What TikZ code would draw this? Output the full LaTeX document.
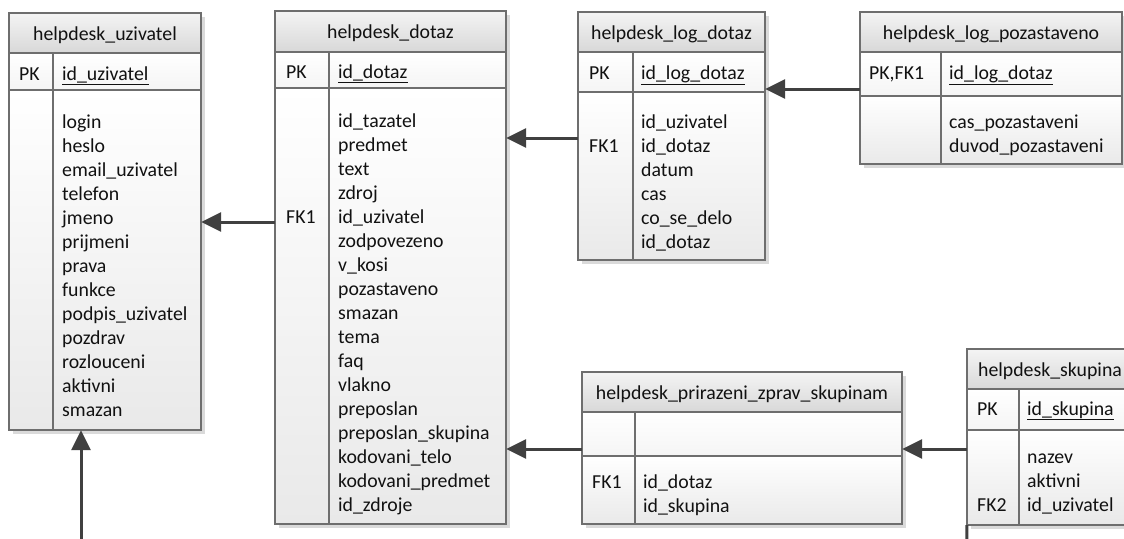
\documentclass[tikz,border=0pt]{standalone}
\usepackage{fontspec}
\setmainfont{Carlito}
\usetikzlibrary{arrows.meta,calc}
\definecolor{bordc}{HTML}{6E6E6E}
\definecolor{shadc}{HTML}{DADADA}
\definecolor{hdrtop}{HTML}{F4F4F4}
\definecolor{hdrbot}{HTML}{D8D8D8}
\definecolor{bodybot}{HTML}{E9E9E9}
\definecolor{connc}{HTML}{404040}
\definecolor{txtc}{HTML}{111111}
\tikzset{
  x=1pt, y=-1pt,
  tabletext/.style={inner sep=0pt, text=txtc, font=\fontsize{19.8}{24}\selectfont},
  ttl/.style={tabletext, anchor=base},
  fld/.style={tabletext, anchor=base west},
  border/.style={draw=bordc, line width=1.2pt},
  fk/.style={draw=connc, line width=3pt, -{Triangle[length=20pt,width=19pt]}},
  conn/.style={draw=connc, line width=3pt},
}
% #1 name, #2 L, #3 T, #4 R, #5 H, #6 P, #7 B, #8 D
\newcommand{\ertable}[8]{%
  \fill[shadc] (#2+4,#3+4) rectangle (#4+4,#7+4);
  \shade[top color=hdrtop, bottom color=hdrbot] (#2,#3) rectangle (#4,#5);
  \shade[top color=white, bottom color=white!96!black] (#2,#5) rectangle (#4,#6);
  \shade[top color=white, bottom color=bodybot] (#2,#6) rectangle (#4,#7);
  \draw[border] (#2,#3) rectangle (#4,#7);
  \draw[border] (#2,#5) -- (#4,#5) (#2,#6) -- (#4,#6) (#8,#5) -- (#8,#7);
  \node[inner sep=0pt, minimum width=#4-#2, minimum height=#7-#3] (#1) at ({(#2+#4)/2},{(#3+#7)/2}) {};
}
% #1 prefix, #2 x, #3 first baseline, #4 list
\newcommand{\fieldlist}[4]{%
  \foreach \t [count=\i from 0] in {#4} {
    \node[fld] (#1-\i) at (#2,#3+24*\i) {\t};
  }
}
\begin{document}
\begin{tikzpicture}
\useasboundingbox (0,0) rectangle (1124,538);
\clip (0,0) rectangle (1124,538);
\fill[white] (0,0) rectangle (1124,538);

% helpdesk_uzivatel
\ertable{uzivatel}{9}{13}{201}{53}{90}{430}{53}
\node[ttl] (u-title) at (105,40) {helpdesk\_uzivatel};
\node[fld] (u-pk) at (19,80) {PK};
\node[fld] (u-pkf) at (62,80) {\underline{id\_uzivatel}};
\fieldlist{uf}{62}{128}{login,heslo,email\_uzivatel,telefon,jmeno,prijmeni,prava,funkce,podpis\_uzivatel,pozdrav,rozlouceni,aktivni,smazan}

% helpdesk_dotaz
\ertable{dotaz}{275}{11}{506}{52}{88}{524}{329}
\node[ttl] (d-title) at (390.5,38) {helpdesk\_dotaz};
\node[fld] (d-pk) at (286,78) {PK};
\node[fld] (d-pkf) at (338,78) {\underline{id\_dotaz}};
\node[fld] (d-fk) at (286,223) {FK1};
\fieldlist{df}{338}{127}{id\_tazatel,predmet,text,zdroj,id\_uzivatel,zodpovezeno,v\_kosi,pozastaveno,smazan,tema,faq,vlakno,preposlan,preposlan\_skupina,kodovani\_telo,kodovani\_predmet,id\_zdroje}

% helpdesk_log_dotaz
\ertable{logdotaz}{578}{12}{765}{52}{92}{260}{633}
\node[ttl] (l-title) at (671.5,39) {helpdesk\_log\_dotaz};
\node[fld] (l-pk) at (589,79) {PK};
\node[fld] (l-pkf) at (641,79) {\underline{id\_log\_dotaz}};
\node[fld] (l-fk) at (589,152) {FK1};
\fieldlist{lf}{641}{128}{id\_uzivatel,id\_dotaz,datum,cas,co\_se\_delo,id\_dotaz}

% helpdesk_log_pozastaveno
\ertable{pozast}{860}{12}{1122}{52}{96}{164}{941}
\node[ttl] (p-title) at (991,39) {helpdesk\_log\_pozastaveno};
\node[fld] (p-pk) at (869,79) {PK,FK1};
\node[fld] (p-pkf) at (949,79) {\underline{id\_log\_dotaz}};
\fieldlist{pf}{949}{128}{cas\_pozastaveni,duvod\_pozastaveni}

% helpdesk_prirazeni_zprav_skupinam
\ertable{prirazeni}{582}{372}{902}{412}{456}{524}{635}
\node[ttl] (z-title) at (742,399) {helpdesk\_prirazeni\_zprav\_skupinam};
\node[fld] (z-fk) at (592,488) {FK1};
\fieldlist{zf}{643}{488}{id\_dotaz,id\_skupina}

% helpdesk_skupina
\ertable{skupina}{967}{349}{1134}{389}{430}{525}{1019}
\node[ttl] (s-title) at (1050,376) {helpdesk\_skupina};
\node[fld] (s-pk) at (977,415) {PK};
\node[fld] (s-pkf) at (1027,415) {\underline{id\_skupina}};
\node[fld] (s-fk) at (977,511) {FK2};
\fieldlist{sf}{1027}{463}{nazev,aktivni,id\_uzivatel}

% connectors
\draw[fk] (dotaz.west |- 0,222) -- (uzivatel.east |- 0,222);
\draw[fk] (logdotaz.west |- 0,138) -- (dotaz.east |- 0,138);
\draw[fk] (pozast.west |- 0,89) -- (logdotaz.east |- 0,89);
\draw[fk] (prirazeni.west |- 0,449) -- (dotaz.east |- 0,449);
\draw[fk] (skupina.west |- 0,449) -- (prirazeni.east |- 0,449);
\coordinate (ubot) at (81,545);
\draw[fk] (ubot) -- (uzivatel.south -| ubot);
\coordinate (sbot) at (967,545);
\draw[conn] (skupina.south west) -- (sbot);
\end{tikzpicture}
\end{document}
